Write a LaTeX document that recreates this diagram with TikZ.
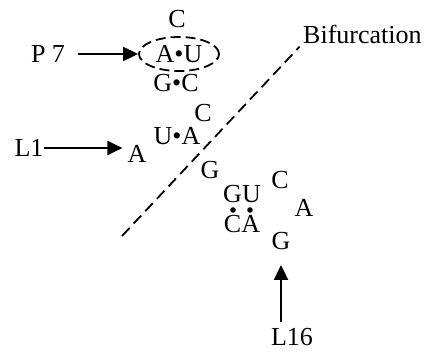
\documentclass[tikz,border=0pt]{standalone}
\usepackage{fontspec}
\setmainfont{Liberation Serif}
\usetikzlibrary{
  arrows.meta,
  shapes.geometric,
  positioning
}

\begin{document}
\begin{tikzpicture}[x=1pt,y=-1pt,
  base/.style={inner sep=0pt,font=\fontsize{26}{28}\selectfont},
  pointer/.style={line width=2pt,-{Triangle[length=15pt,width=14pt]}},
  cut/.style={line width=1.8pt,dash pattern=on 11pt off 6pt}]

\useasboundingbox (0,0) rectangle (427,351);

% Hairpin P7 and the paired stems
\node[base] (c1) at (177,19) {C};
\node[base,ellipse,draw,line width=1.8pt,dash pattern=on 10pt off 5pt,
      minimum width=80pt,minimum height=34pt] (au) at (179,54) {A•U};
\node[base] (gc) at (176,83) {G•C};
\node[base] (c2) at (203,113) {C};
\node[base] (ua) at (177,136) {U•A};
\node[base] (a1) at (137,154) {A};
\node[base] (g1) at (210,170) {G};

% Loop L16
\node[base] (gu) at (242,194) {GU};
\node[base] (ca) at (242,224) {CA};
\node[base] (c3) at (280,180) {C};
\node[base] (a2) at (304,208) {A};
\node[base] (g2) at (281,241) {G};

% Wobble dots between GU and CA
\fill (233,210) circle (2.8pt);
\fill (250,210) circle (2.8pt);

% Labels
\node[base] (p7) at (48,54) {P 7};
\node[base] (l1) at (29,148) {L1};
\node[base] (l16) at (292,337) {L16};
\node[base,anchor=base west] (bif) at (303,43) {Bifurcation};

% Arrows
\draw[pointer,shorten <=13pt] (p7.east) -- (au.west);
\draw[pointer,shorten >=5pt] (l1.east) -- (l1.east -| a1.west);
\draw[pointer,shorten <=6pt,shorten >=15pt] (g2 |- l16.north) -- (g2.south);

% Bifurcation line
\coordinate (cutend) at (122,236);
\draw[cut,shorten >=5pt] (cutend) -- (bif.base west);

\end{tikzpicture}
\end{document}
